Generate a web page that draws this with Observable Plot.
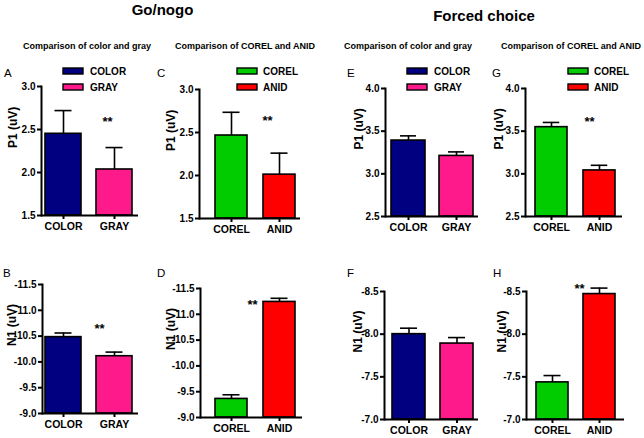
<!DOCTYPE html>
<html><head><meta charset="utf-8">
<script src="https://cdn.jsdelivr.net/npm/d3@7"></script>
<script src="https://cdn.jsdelivr.net/npm/@observablehq/plot@0.6"></script>
<style>
html,body{margin:0;padding:0;background:#fff;}
#root{position:relative;width:644px;height:438px;overflow:hidden;font-family:"Liberation Sans",Arial,sans-serif;}
.panel{position:absolute;}
#overlay{position:absolute;left:0;top:0;pointer-events:none;}
</style></head><body><div id="root"></div>
<script>
// ---------- data ----------
const colorGrayCats = ["COLOR", "GRAY"];
const corelAnidCats = ["COREL", "ANID"];
const colorGrayFills = ["#000080", "#ff1a8c"];
const corelAnidFills = ["#00cc00", "#ff0000"];

const sectionTitles = ["Go/nogo", "Forced choice"];
const subtitles = ["Comparison of color and gray", "Comparison of COREL and ANID",
                   "Comparison of color and gray", "Comparison of COREL and ANID"];
const panelLetters = ["A", "C", "E", "G", "B", "D", "F", "H"];
const yLabels = ["P1 (uV)", "N1 (uV)"];

// Go/nogo
const gonogoP1ColorGray = [2.45, 2.035];
const gonogoP1ColorGraySem = [0.27, 0.255];
const gonogoP1CorelAnid = [2.465, 2.01];
const gonogoP1CorelAnidSem = [0.27, 0.25];
const gonogoN1ColorGray = [-10.48, -10.11];
const gonogoN1ColorGraySem = [0.08, 0.08];
const gonogoN1CorelAnid = [-9.36, -11.24];
const gonogoN1CorelAnidSem = [0.08, 0.07];
// Forced choice
const forcedP1ColorGray = [3.39, 3.21];
const forcedP1ColorGraySem = [0.055, 0.047];
const forcedP1CorelAnid = [3.547, 3.04];
const forcedP1CorelAnidSem = [0.055, 0.06];
const forcedN1ColorGray = [-8.0, -7.89];
const forcedN1ColorGraySem = [0.07, 0.07];
const forcedN1CorelAnid = [-7.435, -8.47];
const forcedN1CorelAnidSem = [0.08, 0.07];

// axis tick values / domains
const gonogoP1Ticks = [1.5, 2.0, 2.5, 3.0];
const forcedP1Ticks = [2.5, 3.0, 3.5, 4.0];
const gonogoN1Ticks = [-9.0, -9.5, -10.0, -10.5, -11.0, -11.5];
const forcedN1Ticks = [-7.0, -7.5, -8.0, -8.5];

// significance marks (A, C, E, G, B, D, F, H)
const significance = ["**", "**", "", "**", "**", "**", "", "**"];

// ---------- layout (pixel geometry only) ----------
const FONT = '"Liberation Sans", Arial, sans-serif';
const geo = {
  A: {axis: 41,  end: 138, top: 86,  bottom: 215, b0: 45,  b1: 132, bw: 36,   ylx: -28.5, star: [102, 116]},
  C: {axis: 199, end: 300, top: 89,  bottom: 218, b0: 215, b1: 295, bw: 32,   ylx: -28,   star: [262, 115]},
  E: {axis: 385, end: 478, top: 88,  bottom: 216, b0: 390, b1: 474, bw: 35,   ylx: -26,   star: [0, 0]},
  G: {axis: 525, end: 622, top: 88,  bottom: 216, b0: 535, b1: 616, bw: 32.5, ylx: -26,   star: [584, 116]},
  B: {axis: 42,  end: 138, top: 284, bottom: 413, b0: 45,  b1: 132, bw: 36,   ylx: -30,   star: [94, 323]},
  D: {axis: 200, end: 302, top: 288, bottom: 417, b0: 215, b1: 295, bw: 32,   ylx: -29,   star: [247, 299]},
  F: {axis: 384, end: 478, top: 291, bottom: 419, b0: 392, b1: 473, bw: 33,   ylx: -26,   star: [0, 0]},
  H: {axis: 526, end: 624, top: 291, bottom: 419, b0: 536, b1: 615, bw: 32,   ylx: -24,   star: [574, 283]}
};

const panels = [
  {id: "A", cats: colorGrayCats, fills: colorGrayFills, v: gonogoP1ColorGray, sem: gonogoP1ColorGraySem, ticks: gonogoP1Ticks, label: yLabels[0], sig: significance[0]},
  {id: "C", cats: corelAnidCats, fills: corelAnidFills, v: gonogoP1CorelAnid, sem: gonogoP1CorelAnidSem, ticks: gonogoP1Ticks, label: yLabels[0], sig: significance[1]},
  {id: "E", cats: colorGrayCats, fills: colorGrayFills, v: forcedP1ColorGray, sem: forcedP1ColorGraySem, ticks: forcedP1Ticks, label: yLabels[0], sig: significance[2]},
  {id: "G", cats: corelAnidCats, fills: corelAnidFills, v: forcedP1CorelAnid, sem: forcedP1CorelAnidSem, ticks: forcedP1Ticks, label: yLabels[0], sig: significance[3]},
  {id: "B", cats: colorGrayCats, fills: colorGrayFills, v: gonogoN1ColorGray, sem: gonogoN1ColorGraySem, ticks: gonogoN1Ticks, label: yLabels[1], sig: significance[4]},
  {id: "D", cats: corelAnidCats, fills: corelAnidFills, v: gonogoN1CorelAnid, sem: gonogoN1CorelAnidSem, ticks: gonogoN1Ticks, label: yLabels[1], sig: significance[5]},
  {id: "F", cats: colorGrayCats, fills: colorGrayFills, v: forcedN1ColorGray, sem: forcedN1ColorGraySem, ticks: forcedN1Ticks, label: yLabels[1], sig: significance[6]},
  {id: "H", cats: corelAnidCats, fills: corelAnidFills, v: forcedN1CorelAnid, sem: forcedN1CorelAnidSem, ticks: forcedN1Ticks, label: yLabels[1], sig: significance[7]}
];

const root = document.getElementById("root");
const SW = 1.6;   // bar outline / error bars
const AW = 2;     // axis lines & ticks

function drawPanel(p) {
  const g = geo[p.id];
  const domain = [p.ticks[0], p.ticks[p.ticks.length - 1]];
  const base = domain[0];
  const up = domain[1] > domain[0] ? 1 : -1;
  const data = p.cats.map((c, i) => ({cat: c, base, v: p.v[i], hi: p.v[i] + up * p.sem[i]}));
  const ml = 40, mt = 10, mr = 4, mb = 26;
  const left = g.axis - ml, top = g.top - mt;
  const width = g.end - g.axis + ml + mr;
  const height = g.bottom - g.top + mt + mb;
  const span = g.b1 - g.b0;
  const pad = (span - 2 * g.bw) / (span - g.bw);
  const capW = 17;
  const ins = Math.max(0, (g.bw - capW) / 2);
  const marks = [
    Plot.barY(data, {x: "cat", y1: "base", y2: "v", fill: "cat", stroke: "#000", strokeWidth: SW}),
    Plot.ruleX(data, {x: "cat", y1: "v", y2: "hi", stroke: "#000", strokeWidth: SW}),
    Plot.tickY(data, {x: "cat", y: "hi", stroke: "#000", strokeWidth: SW, insetLeft: ins, insetRight: ins}),
    Plot.ruleY([base], {stroke: "#000", strokeWidth: AW}),
    Plot.frame({anchor: "left", stroke: "#000", strokeWidth: AW}),
    Plot.axisY({ticks: p.ticks, tickFormat: d => d.toFixed(1), tickSize: 4, tickPadding: 2, stroke: "#000", strokeWidth: AW, fontSize: 10, label: null}),
    Plot.axisX({tickSize: 4, tickPadding: 3, stroke: "#000", strokeWidth: AW, fontSize: 10.5, label: null}),
    Plot.text([p.label], {text: d => d, frameAnchor: "left", rotate: -90, dx: g.ylx, dy: -3, fontSize: 12, fontWeight: "bold"})
  ];
  if (p.sig) {
    marks.push(Plot.text([p.sig], {text: d => d, frameAnchor: "top-left", dx: g.star[0] - g.axis, dy: g.star[1] - g.top, fontSize: 13, fontWeight: "bold"}));
  }
  const svg = Plot.plot({
    width, height,
    marginLeft: ml, marginTop: mt, marginRight: mr, marginBottom: mb,
    style: {fontFamily: FONT, fontSize: "10px", fontWeight: "bold", color: "#000", background: "transparent", overflow: "visible"},
    x: {domain: p.cats, range: [g.b0 - left, g.b1 - left], paddingInner: pad, paddingOuter: 0},
    y: {domain},
    color: {domain: p.cats, range: p.fills},
    marks
  });
  const div = document.createElement("div");
  div.className = "panel";
  div.style.left = left + "px";
  div.style.top = top + "px";
  div.appendChild(svg);
  root.appendChild(div);
}
panels.forEach(drawPanel);

// ---------- overlay text: titles, subtitles, letters, legends ----------
const ov = d3.select(root).append("svg").attr("id", "overlay")
  .attr("width", 644).attr("height", 438)
  .style("font-family", FONT);

const titlePos = [[162.5, 15], [484, 21]];
sectionTitles.forEach((t, i) => ov.append("text").attr("x", titlePos[i][0]).attr("y", titlePos[i][1])
  .attr("text-anchor", "middle").attr("font-size", 15).attr("font-weight", "bold").text(t));

const subPos = [87, 245, 408, 571];
subtitles.forEach((t, i) => ov.append("text").attr("x", subPos[i]).attr("y", 49)
  .attr("text-anchor", "middle").attr("font-size", 9).attr("font-weight", "bold").text(t));

const letterPos = [[4, 77], [157, 77], [347, 77], [492, 77], [3, 277], [157, 277], [347, 277], [493, 277]];
panelLetters.forEach((t, i) => ov.append("text").attr("x", letterPos[i][0]).attr("y", letterPos[i][1])
  .attr("font-size", 11.5).text(t));

const legends = [
  {x: 63, tx: 90, cats: colorGrayCats, fills: colorGrayFills},
  {x: 237, tx: 263, cats: corelAnidCats, fills: corelAnidFills},
  {x: 407, tx: 434, cats: colorGrayCats, fills: colorGrayFills},
  {x: 568, tx: 594, cats: corelAnidCats, fills: corelAnidFills}
];
const legendY = [71, 87];
legends.forEach(L => {
  L.cats.forEach((c, i) => {
    ov.append("rect").attr("x", L.x).attr("y", legendY[i] - 3).attr("width", 20).attr("height", 6)
      .attr("fill", L.fills[i]).attr("stroke", "#000").attr("stroke-width", 1.4);
    ov.append("text").attr("x", L.tx).attr("y", legendY[i] + 3.5)
      .attr("font-size", 10).attr("font-weight", "bold").text(c);
  });
});
</script>
</body></html>
